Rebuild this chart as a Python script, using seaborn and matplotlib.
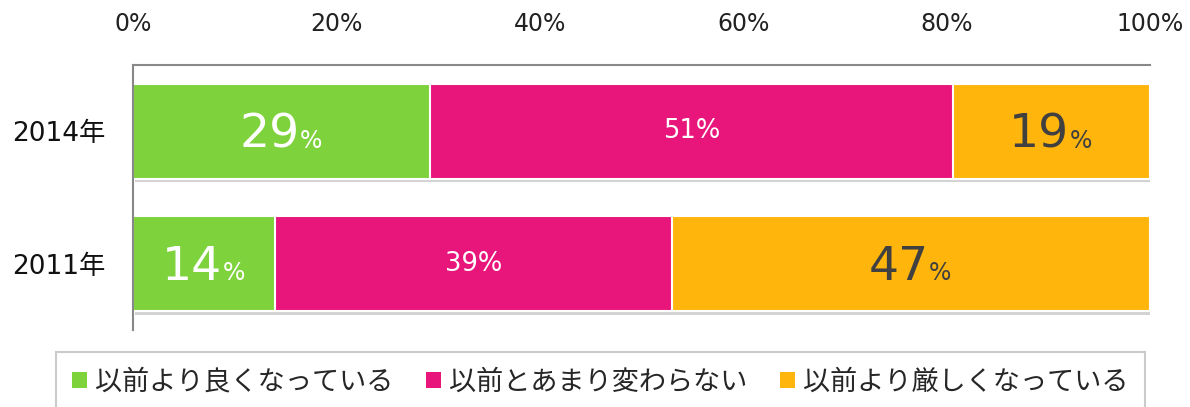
import matplotlib
matplotlib.use("Agg")
import matplotlib.pyplot as plt
import matplotlib.patheffects as pe
from matplotlib.patches import Patch
import seaborn as sns
import pandas as pd

# データ
years = ["2014年", "2011年"]
series_names = ["以前より良くなっている", "以前とあまり変わらない", "以前より厳しくなっている"]
better = [29.2, 14.0]
same = [51.4, 39.0]
worse = [19.4, 47.0]
colors = ["#7ED23C", "#E8157B", "#FFB50B"]
text_colors = ["white", "white", "#404040"]
big_label = [True, False, True]

xticks = [0, 20, 40, 60, 80, 100]
xtick_labels = [f"{v}%" for v in xticks]

sns.set_theme(style="white")
plt.rcParams["font.family"] = ["DejaVu Sans", "Noto Sans CJK JP"]

df = pd.DataFrame({"年": years, "better": better, "same": same, "worse": worse})
series = [df["better"], df["same"], df["worse"]]
# 積み上げ用の累積値
cum1 = df["better"]
cum2 = df["better"] + df["same"]
cum3 = cum2 + df["worse"]

fig = plt.figure(figsize=(11.9, 4.07), dpi=100)
ax = fig.add_axes([0.1118, 0.1892, 0.8546, 0.6511])

# 後ろから描く(合計→2つ目まで→1つ目)
layers = [(cum3, colors[2]), (cum2, colors[1]), (cum1, colors[0])]
for i, (vals, col) in enumerate(layers):
    sns.barplot(x=vals, y=df["年"], orient="h", color=col, saturation=1,
                width=0.72, edgecolor="white", linewidth=1.5, ax=ax)
    if i == 0:
        for p in ax.patches:
            p.set_path_effects([pe.SimplePatchShadow(offset=(1.5, -2.5), alpha=0.25,
                                                     shadow_rgbFace="#505050"),
                                pe.Normal()])

# ラベル
starts = [0 * cum1, cum1, cum2]
for s_idx, ser in enumerate(series):
    for row in range(len(years)):
        v = ser.iloc[row]
        cx = starts[s_idx].iloc[row] + v / 2
        txt = f"{round(v)}"
        c = text_colors[s_idx]
        if big_label[s_idx]:
            ax.annotate(txt, (cx, row), xytext=(13, -12), textcoords="offset points",
                        ha="right", va="baseline", fontsize=34, color=c)
            ax.annotate("%", (cx, row), xytext=(13, -12), textcoords="offset points",
                        ha="left", va="baseline", fontsize=17, color=c)
        else:
            ax.text(cx, row, txt + "%", ha="center", va="center", fontsize=18.5, color=c)

ax.set_xlim(0, 100)
ax.set_ylim(1.5, -0.5)
ax.set_xticks(xticks)
ax.set_xticklabels(xtick_labels)
ax.xaxis.tick_top()
ax.tick_params(axis="x", length=0, pad=21, labelsize=17, colors="#222222")
ax.tick_params(axis="y", length=0, pad=20, labelsize=19, colors="#111111")
ax.set_xlabel("")
ax.set_ylabel("")
for side in ["right", "bottom"]:
    ax.spines[side].set_visible(False)
for side in ["top", "left"]:
    ax.spines[side].set_color("#888888")
    ax.spines[side].set_linewidth(1.5)

handles = [Patch(facecolor=c, edgecolor="none") for c in colors]
leg = fig.legend(handles, series_names, loc="upper center", bbox_to_anchor=(0.5045, 0.168),
                 ncol=3, frameon=True, fancybox=False, edgecolor="#BFBFBF",
                 handlelength=0.55, handleheight=0.55, handletextpad=0.3,
                 columnspacing=1.2, borderpad=0.6,
                 prop={"family": ["Noto Sans CJK JP"], "size": 19.5})
leg.get_frame().set_linewidth(1.5)

fig.savefig("out.png", dpi=100)
